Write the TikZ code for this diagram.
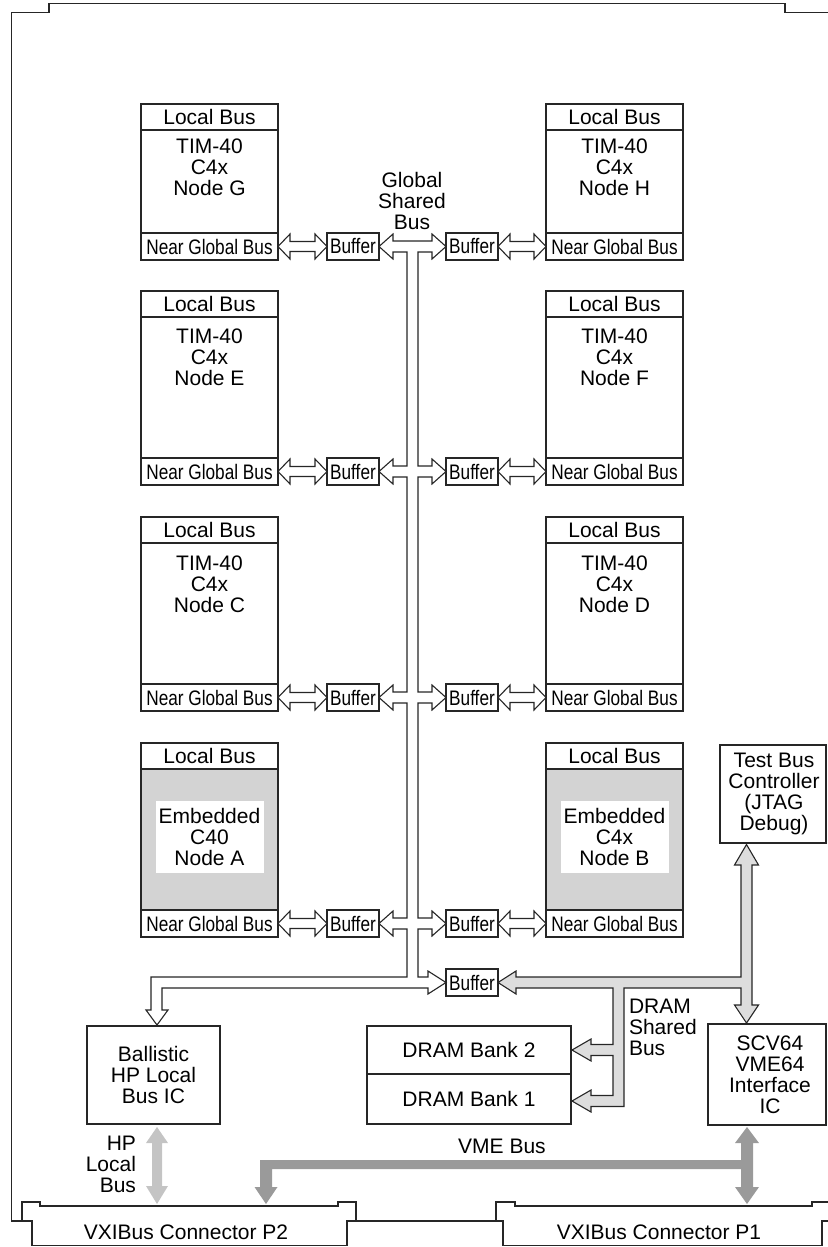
\documentclass[tikz,border=0pt]{standalone}
\usepackage{fontspec}
\setmainfont{Liberation Sans}
\newfontfamily\narrowfont[FakeStretch=0.82]{Liberation Sans}
\usetikzlibrary{calc}
\definecolor{ln}{HTML}{262626}
\definecolor{shade}{HTML}{D3D3D3}
\definecolor{busL}{HTML}{DDDDDD}
\definecolor{vme}{HTML}{9A9A9A}
\definecolor{hp}{HTML}{C4C4C4}
\newcommand{\dbl}[2]{%
  \draw[harrow] let \p1=(#1), \p2=(#2) in
   (\x1,\y1) -- (\x1+12pt,\y1+12.5pt) -- (\x1+12pt,\y1+5pt) -- (\x2-12pt,\y1+5pt) -- (\x2-12pt,\y1+12.5pt)
   -- (\x2,\y1) -- (\x2-12pt,\y1-12.5pt) -- (\x2-12pt,\y1-5pt) -- (\x1+12pt,\y1-5pt) -- (\x1+12pt,\y1-12.5pt) -- cycle;}
\newcommand{\proc}[6]{%
  \node[hdr, anchor=north west] (#1hdr) at (#2,#3) {Local Bus};
  \node[ngb, anchor=north west] (#1ngb) at (#2,#4) {\narrowfont Near Global Bus};
  \draw[boxline] (#1hdr.south west) rectangle (#1ngb.north east);
  \node[txt] (#1txt) at (#2+68.5,#6) {#5};}
\newcommand{\eproc}[6]{%
  \node[hdr, anchor=north west] (#1hdr) at (#2,#3) {Local Bus};
  \node[ngb, anchor=north west] (#1ngb) at (#2,#4) {\narrowfont Near Global Bus};
  \draw[boxline, fill=shade] (#1hdr.south west) rectangle (#1ngb.north east);
  \node[txt, fill=white, minimum width=108pt, minimum height=72pt] (#1txt) at (#2+68.5,#6) {#5};}
\begin{document}
\begin{tikzpicture}[x=1pt,y=-1pt,
  every node/.style={font=\fontsize{21}{21}\selectfont, inner sep=0pt, outer sep=0pt},
  boxline/.style={draw=ln, line width=1.2pt},
  box/.style={boxline, rectangle, fill=white},
  hdr/.style={box, minimum width=137pt, minimum height=26pt},
  ngb/.style={box, minimum width=137pt, minimum height=27pt},
  buf/.style={box, minimum width=52pt, minimum height=27pt},
  txt/.style={align=center},
  harrow/.style={draw=ln, line width=1.1pt, fill=white, line join=miter},
  busline/.style={draw=ln, line width=1.1pt, line join=miter}]
\useasboundingbox (0,0) rectangle (827,1247);

% board outline
\draw[boxline] (22,1221) -- (11.5,1221) -- (11.5,12.5) -- (49,12.5) -- (49,3.5) -- (785,3.5) -- (785,12.5) -- (835,12.5);
\draw[boxline] (356,1221) -- (496,1221);

% connectors
\draw[boxline] (22,1202) -- (40,1202) -- (40,1206) -- (338,1206) -- (338,1202) -- (356,1202) -- (356,1221) -- (347,1221) -- (347,1245.5) -- (32,1245.5) -- (32,1221) -- (22,1221) -- cycle;
\draw[boxline] (496,1202) -- (515,1202) -- (515,1206) -- (812,1206) -- (812,1202) -- (835,1202) -- (835,1221) -- (822,1221) -- (822,1245.5) -- (503,1245.5) -- (503,1221) -- (496,1221) -- cycle;
\node (P2) at (186,1232) {VXIBus Connector P2};
\node (P1) at (659,1232) {VXIBus Connector P1};

% processor nodes
\proc{G}{141}{104}{233}{TIM-40\\C4x\\Node G}{167}
\proc{H}{546}{104}{233}{TIM-40\\C4x\\Node H}{167}
\proc{E}{141}{291}{458}{TIM-40\\C4x\\Node E}{357}
\proc{F}{546}{291}{458}{TIM-40\\C4x\\Node F}{357}
\proc{C}{141}{517}{684}{TIM-40\\C4x\\Node C}{584}
\proc{D}{546}{517}{684}{TIM-40\\C4x\\Node D}{584}
\eproc{A}{141}{743}{910}{Embedded\\C40\\Node A}{837}
\eproc{B}{546}{743}{910}{Embedded\\C4x\\Node B}{837}

% buffers
\foreach \k/\y in {G/233,E/458,C/684,A/910}{
  \node[buf, anchor=north west] (\k buf) at (327,\y) {\narrowfont Buffer};}
\foreach \k/\y in {H/233,F/458,D/684,B/910}{
  \node[buf, anchor=north west] (\k buf) at (446,\y) {\narrowfont Buffer};}
\node[buf, anchor=north west] (Mbuf) at (446,969) {\narrowfont Buffer};

% node <-> buffer arrows
\dbl{Gngb.east}{Gbuf.west}
\dbl{Engb.east}{Ebuf.west}
\dbl{Cngb.east}{Cbuf.west}
\dbl{Angb.east}{Abuf.west}
\dbl{Hbuf.east}{Hngb.west}
\dbl{Fbuf.east}{Fngb.west}
\dbl{Dbuf.east}{Dngb.west}
\dbl{Bbuf.east}{Bngb.west}

% global shared bus
\draw[busline, fill=white]
 (393,241) -- (432,241) -- (432,234) -- (446,246.5) -- (432,259) -- (432,252) -- (418,252)
 -- (418,466) -- (432,466) -- (432,459) -- (446,471.5) -- (432,484) -- (432,477) -- (418,477)
 -- (418,692) -- (432,692) -- (432,685) -- (446,697.5) -- (432,710) -- (432,703) -- (418,703)
 -- (418,918) -- (432,918) -- (432,911) -- (446,923.5) -- (432,936) -- (432,929) -- (418,929)
 -- (418,977) -- (428,977) -- (428,971) -- (446,982.5) -- (428,994) -- (428,988)
 -- (162,988) -- (162,1010) -- (168,1010) -- (157,1025) -- (146,1010) -- (151,1010) -- (151,977)
 -- (407,977)
 -- (407,929) -- (393,929) -- (393,936) -- (379,923.5) -- (393,911) -- (393,918) -- (407,918)
 -- (407,703) -- (393,703) -- (393,710) -- (379,697.5) -- (393,685) -- (393,692) -- (407,692)
 -- (407,477) -- (393,477) -- (393,484) -- (379,471.5) -- (393,459) -- (393,466) -- (407,466)
 -- (407,252) -- (393,252) -- (393,259) -- (379,246.5) -- (393,234) -- cycle;
\node[txt] (gsb) at (412,201) {Global\\Shared\\Bus};

% lower blocks
\node[box, minimum width=133pt, minimum height=98pt, anchor=north west, txt] (ball) at (87,1026) {Ballistic\\HP Local\\Bus IC};
\node[box, minimum width=204pt, minimum height=48pt, anchor=north west] (dram2) at (367,1026) {DRAM Bank 2};
\node[box, minimum width=204pt, minimum height=50pt, anchor=north west] (dram1) at (367,1074) {DRAM Bank 1};
\draw[draw=ln, line width=2.2pt] (dram2.south west) -- (dram2.south east);
\node[box, minimum width=106pt, minimum height=98pt, anchor=north west] (tbc) at (720,745) {};
\node[txt] (tbct) at (774,794) {Test Bus\\Controller\\(JTAG\\Debug)};
\node[box, minimum width=118pt, minimum height=101pt, anchor=north west] (scv) at (708,1024) {};
\node[txt] (scvt) at (770,1075) {SCV64\\VME64\\Interface\\IC};

% DRAM shared bus / test bus
\draw[busline, fill=busL]
 (741,865) -- (734.5,865) -- (746.5,844.5) -- (758.5,865) -- (752,865) -- (752,1005) -- (758.5,1005) -- (746.5,1023) -- (734.5,1005) -- (741,1005)
 -- (741,988) -- (624,988) -- (624,1106.5) -- (591,1106.5) -- (591,1112) -- (572,1101) -- (591,1090) -- (591,1095.5) -- (613,1095.5)
 -- (613,1055.5) -- (591,1055.5) -- (591,1061) -- (572,1050) -- (591,1039) -- (591,1044.5) -- (613,1044.5)
 -- (613,988) -- (516,988) -- (516,994) -- (498,982.5) -- (516,971) -- (516,977) -- (741,977) -- cycle;
\node[txt, align=left, anchor=west] (dsb) at (629,1027) {DRAM\\Shared\\Bus};

% VME bus
\fill[vme] (741,1143) -- (735,1143) -- (747,1127) -- (759,1143) -- (753,1143) -- (753,1187) -- (759,1187) -- (747,1204) -- (735,1187) -- (741,1187)
 -- (741,1169) -- (272,1169) -- (272,1187) -- (277.5,1187) -- (266,1204) -- (254.5,1187) -- (260,1187) -- (260,1160) -- (741,1160) -- cycle;
\node (vmel) at (502,1146) {VME Bus};

% HP local bus
\fill[hp] (152,1143) -- (146,1143) -- (157,1127) -- (168,1143) -- (162,1143) -- (162,1186) -- (168,1186) -- (157,1204) -- (146,1186) -- (152,1186) -- cycle;
\node[txt, align=right, anchor=east] (hpl) at (136,1164) {HP\\Local\\Bus};
\end{tikzpicture}
\end{document}
